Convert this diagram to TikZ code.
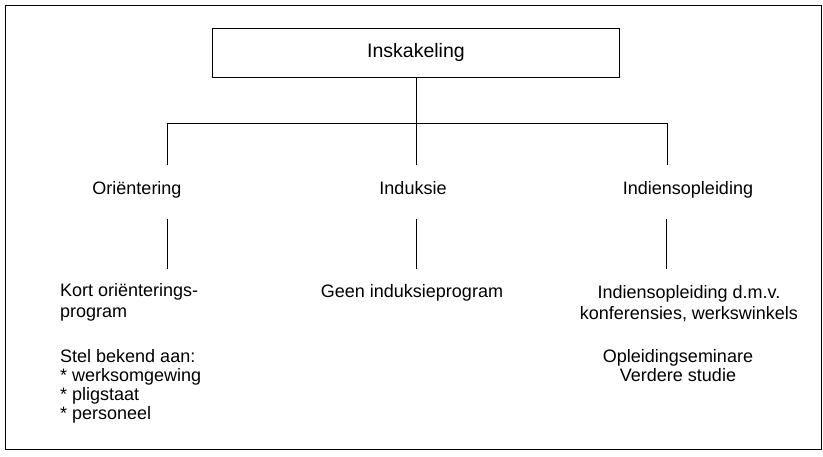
\documentclass[tikz,border=0pt]{standalone}
\usepackage{fontspec}
\setmainfont{Liberation Sans}
\begin{document}
\begin{tikzpicture}[x=1pt,y=1pt,
  txt/.style={inner sep=0pt, font=\fontsize{18}{21}\selectfont},
  headbox/.style={draw, line width=0.9pt, minimum width=407pt, minimum height=49pt, inner sep=0pt, font=\fontsize{19.5}{22}\selectfont},
  link/.style={line width=0.8pt},
  frame/.style={line width=1pt}]
\useasboundingbox (0,0) rectangle (823,456);
% outer frame
\draw[frame] (5,7) rectangle (821,450);

% head box
\node[headbox] (head) at (416,403.5) {Inskakeling};

% branch coordinates
\coordinate (j)  at (416,333);
\coordinate (jl) at (167,333);
\coordinate (jr) at (667,333);
\coordinate (dl) at (167,291);
\coordinate (dm) at (416,291);
\coordinate (dr) at (667,291);
\coordinate (ul) at (167,237);
\coordinate (um) at (416,237);
\coordinate (ur) at (666,237);
\coordinate (bl) at (167,187);
\coordinate (bm) at (416,187);
\coordinate (br) at (666,187);

% second level
\node[txt, anchor=base] (ori) at (137,261) {Oriëntering};
\node[txt, anchor=base] (ind) at (413,261) {Induksie};
\node[txt, anchor=base] (indo) at (688,261) {Indiensopleiding};

% third level
\node[txt, anchor=north west, align=left] (kort) at (60,173) {Kort oriënterings-\\program};
\node[txt, anchor=north west, align=left, font=\fontsize{18}{19}\selectfont] (stel) at (60,107) {Stel bekend aan:\\* werksomgewing\\* pligstaat\\* personeel};
\node[txt, anchor=base] (geen) at (412,158) {Geen induksieprogram};
\node[txt, anchor=north, align=center] (dmv) at (689,171) {Indiensopleiding d.m.v.\\konferensies, werkswinkels};
\node[txt, anchor=north, align=center, font=\fontsize{18}{19}\selectfont] (sem) at (678,107) {Opleidingseminare\\Verdere studie};

% connectors
\draw[link] (head.south) -- (j);
\draw[link] (dl) -- (jl) -- (jr) -- (dr);
\draw[link] (j) -- (dm);
\draw[link] (ul) -- (bl);
\draw[link] (um) -- (bm);
\draw[link] (ur) -- (br);
\end{tikzpicture}
\end{document}
